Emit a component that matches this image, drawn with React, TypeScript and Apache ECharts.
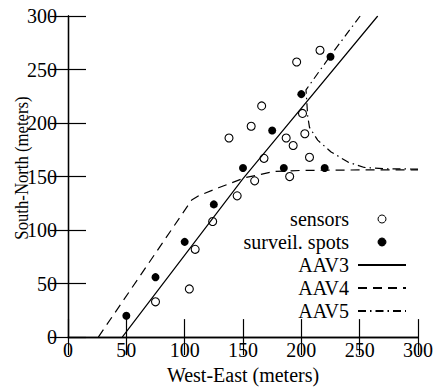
import React, { useEffect, useRef } from "react";
import * as echarts from "echarts";

const xTicks = [0, 50, 100, 150, 200, 250, 300];
const yTicks = [0, 50, 100, 150, 200, 250, 300];

const sensors: [number, number][] = [
  [75, 33], [104, 45], [109, 82], [124, 108], [145, 132], [138, 186],
  [157, 197], [160, 146], [166, 216], [168, 167], [187, 186], [190, 150],
  [193, 179], [196, 257], [201, 209], [203, 190], [207, 168], [216, 268],
];

const spots: [number, number][] = [
  [50, 20], [75, 56], [100, 89], [125, 124], [150, 158], [175, 193],
  [185, 158], [200, 227], [220, 158], [225, 262],
];

const aav3: [number, number][] = [
  [46.5, 0], [150, 148], [265.5, 300],
];

const aav4: [number, number][] = [
  [26, 0], [106, 128], [112, 132], [129, 139.5], [152, 149], [177, 154.8],
  [200, 155.7], [250, 156.2], [300, 156.3],
];

const aav5: [number, number][] = [
  [300, 157], [274, 157.2], [254, 158.5], [240, 163.5], [225.5, 173],
  [214, 184], [207, 196], [205.5, 206], [204, 231], [225, 263], [250.4, 300],
];

const seriesNames = ["sensors", "surveil. spots", "AAV3", "AAV4", "AAV5"];
const xTitle = "West-East (meters)";
const yTitle = "South-North (meters)";

const FONT = "Liberation Serif";
const NOFILL = "rgba(0,0,0,0)";

export default function App() {
  const ref = useRef<HTMLDivElement>(null);
  useEffect(() => {
    document.body.style.margin = "0";
    if (!ref.current) return;
    const chart = echarts.init(ref.current, undefined, { renderer: "svg" });
    const axisCommon = {
      type: "value" as const,
      axisLine: { show: true, lineStyle: { color: "#000", width: 1.3 } },
      axisTick: { show: true, inside: true, length: 18, lineStyle: { color: "#000", width: 1.2 } },
      splitLine: { show: false },
    };
    const xInt = xTicks[1] - xTicks[0];
    const yInt = yTicks[1] - yTicks[0];
    chart.setOption({
      animation: false,
      textStyle: { fontFamily: FONT, color: "#000" },
      grid: { left: 68, right: 15, top: 16, bottom: 49, containLabel: false },
      xAxis: [
        {
          ...axisCommon,
          position: "bottom",
          min: xTicks[0], max: xTicks[xTicks.length - 1], interval: xInt,
          axisLabel: { fontSize: 20, fontFamily: FONT, color: "#000", margin: 3 },
          name: xTitle, nameLocation: "middle", nameGap: 26,
          nameTextStyle: { fontSize: 20, fontFamily: FONT, color: "#000" },
        },
        {
          ...axisCommon,
          position: "top",
          min: xTicks[0], max: xTicks[xTicks.length - 1], interval: xInt,
          axisLabel: { show: false },
        },
      ],
      yAxis: [
        {
          ...axisCommon,
          position: "left",
          min: yTicks[0], max: yTicks[yTicks.length - 1], interval: yInt,
          axisLabel: { fontSize: 20, fontFamily: FONT, color: "#000", margin: 11 },
        },
        {
          ...axisCommon,
          position: "right",
          min: yTicks[0], max: yTicks[yTicks.length - 1], interval: yInt,
          axisLabel: { show: false },
        },
      ],
      graphic: [
        {
          type: "text",
          x: 22,
          y: 168,
          rotation: Math.PI / 2,
          scaleX: 0.88,
          style: {
            text: yTitle,
            fontSize: 19,
            fontFamily: FONT,
            fill: "#000",
            align: "center",
            verticalAlign: "middle",
          },
        },
      ],
      legend: {
        data: seriesNames,
        orient: "vertical",
        align: "right",
        right: 29,
        top: 209,
        padding: 0,
        itemWidth: 48,
        itemHeight: 8,
        itemGap: 3,
        itemStyle: { borderWidth: 1 },
        textStyle: { fontSize: 20, fontFamily: FONT, color: "#000", padding: [0, 4, 0, 0] },
      },
      series: [
        {
          name: seriesNames[2], type: "line", data: aav3, symbol: "none",
          lineStyle: { color: "#000", width: 1.2, type: "solid" },
          itemStyle: { color: NOFILL, borderWidth: 0 },
        },
        {
          name: seriesNames[3], type: "line", data: aav4, symbol: "none",
          lineStyle: { color: "#000", width: 1.2, type: [9, 6] },
          itemStyle: { color: NOFILL, borderWidth: 0 },
        },
        {
          name: seriesNames[4], type: "line", data: aav5, symbol: "none",
          lineStyle: { color: "#000", width: 1.2, type: [8, 4, 1.5, 4] },
          itemStyle: { color: NOFILL, borderWidth: 0 },
        },
        {
          name: seriesNames[0], type: "scatter", data: sensors, symbol: "circle", symbolSize: 8,
          itemStyle: { color: "#fff", borderColor: "#000", borderWidth: 1.1, opacity: 1 },
        },
        {
          name: seriesNames[1], type: "scatter", data: spots, symbol: "circle", symbolSize: 8,
          itemStyle: { color: "#000", borderColor: "#000", borderWidth: 0, opacity: 1 },
        },
      ],
    });
    return () => chart.dispose();
  }, []);
  return <div ref={ref} style={{ width: 436, height: 390 }} />;
}
